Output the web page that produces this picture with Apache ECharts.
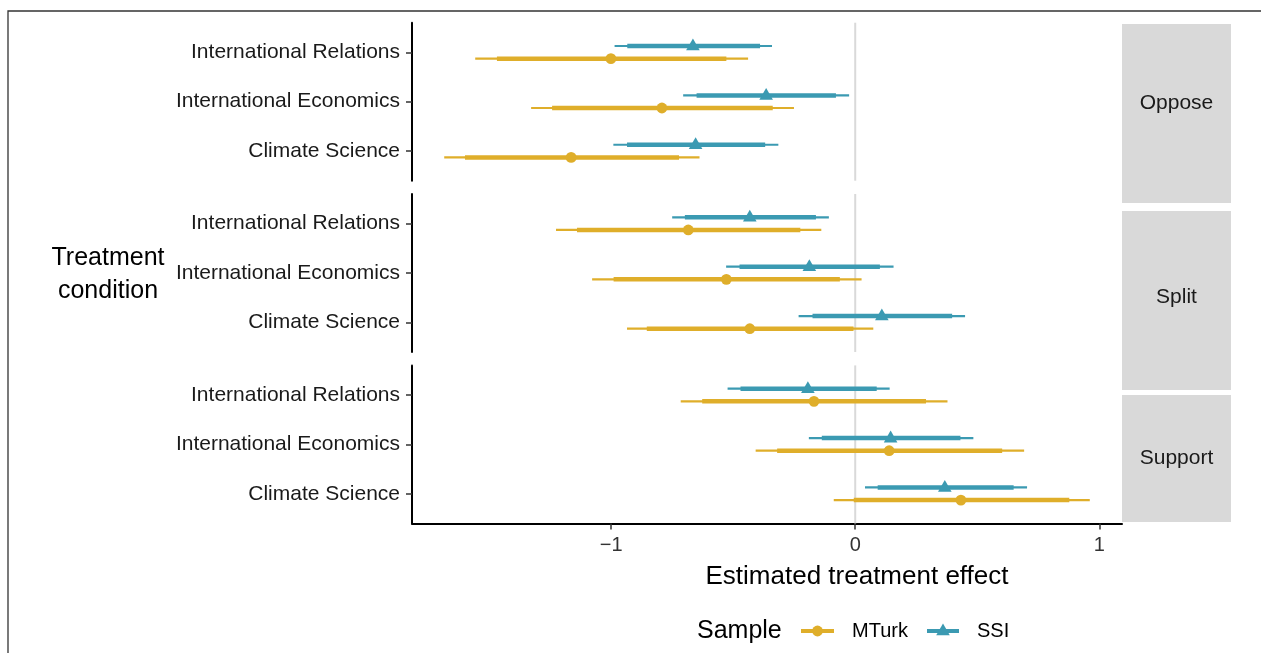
<!DOCTYPE html>
<html><head><meta charset="utf-8">
<script src="https://cdn.jsdelivr.net/npm/echarts@6/dist/echarts.min.js"></script>
<style>html,body{margin:0;padding:0;background:#fff}#c{width:1261px;height:653px}</style>
</head><body><div id="c"></div>
<script>
// ---- data ----
const categories = ['International Relations', 'International Economics', 'Climate Science'];
const conditions = ['Oppose', 'Split', 'Support'];
const samples = ['MTurk', 'SSI'];
const xTicks = [-1, 0, 1];

// rows: Oppose, Split, Support ; columns: IR, IE, CS
const mturkEst  = [[-1.001, -0.792, -1.164], [-0.684, -0.528, -0.432], [-0.169, 0.139, 0.433]];
const mturkLo95 = [[-1.557, -1.328, -1.684], [-1.226, -1.078, -0.935], [-0.715, -0.408, -0.088]];
const mturkHi95 = [[-0.439, -0.251, -0.638], [-0.139, 0.026, 0.074], [0.378, 0.692, 0.961]];
const mturkLo90 = [[-1.468, -1.242, -1.599], [-1.140, -0.990, -0.854], [-0.627, -0.320, -0.006]];
const mturkHi90 = [[-0.528, -0.338, -0.722], [-0.225, -0.063, -0.007], [0.290, 0.602, 0.877]];

const ssiEst  = [[-0.665, -0.365, -0.654], [-0.432, -0.188, 0.109], [-0.194, 0.145, 0.367]];
const ssiLo95 = [[-0.986, -0.705, -0.991], [-0.750, -0.529, -0.232], [-0.523, -0.190, 0.040]];
const ssiHi95 = [[-0.341, -0.025, -0.315], [-0.108, 0.157, 0.450], [0.141, 0.484, 0.704]];
const ssiLo90 = [[-0.934, -0.650, -0.935], [-0.698, -0.474, -0.175], [-0.470, -0.137, 0.092]];
const ssiHi90 = [[-0.390, -0.079, -0.369], [-0.161, 0.101, 0.397], [0.088, 0.431, 0.649]];

// ---- styling ----
const FONT = '"Liberation Sans", Arial, Helvetica, sans-serif';
const COLORS = { MTurk: '#DFAE2A', SSI: '#3B9AB2' };
const DODGE = { MTurk: 0.128, SSI: -0.128 };
const YMIN = -0.6, YMAX = 2.6;
const XMIN = -1.816, XMAX = 1.093;
const panelTops = [22.7, 194, 365.4];
const panelH = 158;
const X0 = 412, X1 = 1122;

const sampleData = {
  MTurk: { est: mturkEst, lo95: mturkLo95, hi95: mturkHi95, lo90: mturkLo90, hi90: mturkHi90 },
  SSI:   { est: ssiEst,   lo95: ssiLo95,   hi95: ssiHi95,   lo90: ssiLo90,   hi90: ssiHi90 }
};

const chart = echarts.init(document.getElementById('c'), null, { renderer: 'canvas' });

const grids = panelTops.map(t => ({ left: X0, top: t, width: X1 - X0, height: panelH }));

const xAxes = panelTops.map((t, i) => ({
  gridIndex: i, type: 'value', min: XMIN, max: XMAX,
  show: i === 2,
  axisLine: { show: true, onZero: false, lineStyle: { color: '#000', width: 2 } },
  axisTick: { show: true, length: 6, customValues: xTicks, lineStyle: { color: '#333', width: 1.5 } },
  axisLabel: { customValues: xTicks, fontSize: 20, fontFamily: FONT, color: '#333', margin: 12,
               formatter: v => String(v).replace('-', '\u2212') },
  splitLine: { show: false }
}));

const yAxes = panelTops.map((t, i) => ({
  gridIndex: i, type: 'value', inverse: true, min: YMIN, max: YMAX,
  axisLine: { show: true, onZero: false, lineStyle: { color: '#000', width: 2 } },
  axisTick: { show: true, length: 6, customValues: [0, 1, 2], lineStyle: { color: '#333', width: 1.5 } },
  axisLabel: { customValues: [0, 1, 2], fontSize: 21, fontFamily: FONT, color: '#1a1a1a', margin: 12,
               formatter: v => categories[Math.round(v)] },
  splitLine: { show: false }
}));

const series = [];
// zero reference line in each panel
panelTops.forEach((t, i) => {
  series.push({
    type: 'custom', xAxisIndex: i, yAxisIndex: i, silent: true, z: 1,
    data: [[0]],
    encode: { x: 0 },
    renderItem: (params, api) => {
      const a = api.coord([api.value(0), YMIN]);
      const b = api.coord([api.value(0), YMAX]);
      return { type: 'line', shape: { x1: a[0], y1: a[1], x2: b[0], y2: b[1] },
               style: { stroke: '#D9D9D9', lineWidth: 2 } };
    }
  });
});

conditions.forEach((cond, i) => {
  samples.forEach(s => {
    const d = sampleData[s];
    const color = COLORS[s];
    const dodge = DODGE[s];
    series.push({
      type: 'custom', name: s, xAxisIndex: i, yAxisIndex: i, z: 5,
      data: categories.map((c, k) => [d.est[i][k], k, d.lo95[i][k], d.hi95[i][k], d.lo90[i][k], d.hi90[i][k]]),
      encode: { x: [0, 2, 3, 4, 5], y: 1 },
      renderItem: (params, api) => {
        const y = api.value(1) + dodge;
        const p = api.coord([api.value(0), y]);
        const l95 = api.coord([api.value(2), y]);
        const h95 = api.coord([api.value(3), y]);
        const l90 = api.coord([api.value(4), y]);
        const h90 = api.coord([api.value(5), y]);
        const children = [
          { type: 'line', shape: { x1: l95[0], y1: l95[1], x2: h95[0], y2: h95[1] },
            style: { stroke: color, lineWidth: 2.2 } },
          { type: 'line', shape: { x1: l90[0], y1: l90[1], x2: h90[0], y2: h90[1] },
            style: { stroke: color, lineWidth: 4.5 } }
        ];
        if (s === 'MTurk') {
          children.push({ type: 'circle', shape: { cx: p[0], cy: p[1], r: 5.4 }, style: { fill: color } });
        } else {
          children.push({ type: 'polygon', shape: { points: [[p[0], p[1] - 7.5], [p[0] - 6.8, p[1] + 4.3], [p[0] + 6.8, p[1] + 4.3]] },
                          style: { fill: color } });
        }
        return { type: 'group', children };
      }
    });
  });
});

// strips
const strips = [
  { label: 'Oppose', y0: 24, y1: 203, ty: 103 },
  { label: 'Split', y0: 211, y1: 390, ty: 297 },
  { label: 'Support', y0: 395, y1: 522, ty: 458 }
];
const graphic = [
  { type: 'rect', shape: { x: 8, y: 11, width: 1300, height: 700 }, style: { fill: 'none', stroke: '#333', lineWidth: 1.3 }, z: 0 }
];
strips.forEach(st => {
  graphic.push({ type: 'rect', shape: { x: 1122, y: st.y0, width: 109, height: st.y1 - st.y0 }, style: { fill: '#D9D9D9' } });
  graphic.push({ type: 'text', x: 1176.5, y: st.ty, style: { text: st.label, font: '21px ' + FONT, fill: '#1a1a1a', textAlign: 'center', textVerticalAlign: 'middle' } });
});
// axis titles
graphic.push({ type: 'text', x: 108, y: 275, style: { text: 'Treatment\ncondition', font: '25px ' + FONT, fill: '#000', textAlign: 'center', textVerticalAlign: 'middle', lineHeight: 33 } });
graphic.push({ type: 'text', x: 857, y: 577, style: { text: 'Estimated treatment effect', font: '26px ' + FONT, fill: '#000', textAlign: 'center', textVerticalAlign: 'middle' } });
// legend
const LY = 631;
graphic.push({ type: 'text', x: 697, y: LY, style: { text: 'Sample', font: '25px ' + FONT, fill: '#000', textVerticalAlign: 'middle' } });
graphic.push({ type: 'line', shape: { x1: 801, y1: LY, x2: 834, y2: LY }, style: { stroke: COLORS.MTurk, lineWidth: 4 } });
graphic.push({ type: 'circle', shape: { cx: 817.5, cy: LY, r: 5.4 }, style: { fill: COLORS.MTurk } });
graphic.push({ type: 'text', x: 852, y: LY, style: { text: 'MTurk', font: '20px ' + FONT, fill: '#000', textVerticalAlign: 'middle' } });
graphic.push({ type: 'line', shape: { x1: 927, y1: LY, x2: 959, y2: LY }, style: { stroke: COLORS.SSI, lineWidth: 4 } });
graphic.push({ type: 'polygon', shape: { points: [[943, LY - 7.5], [936.2, LY + 4.3], [949.8, LY + 4.3]] }, style: { fill: COLORS.SSI } });
graphic.push({ type: 'text', x: 977, y: LY, style: { text: 'SSI', font: '20px ' + FONT, fill: '#000', textVerticalAlign: 'middle' } });

chart.setOption({
  animation: false,
  backgroundColor: '#fff',
  grid: grids,
  xAxis: xAxes,
  yAxis: yAxes,
  series,
  graphic
});
</script>
</body></html>
